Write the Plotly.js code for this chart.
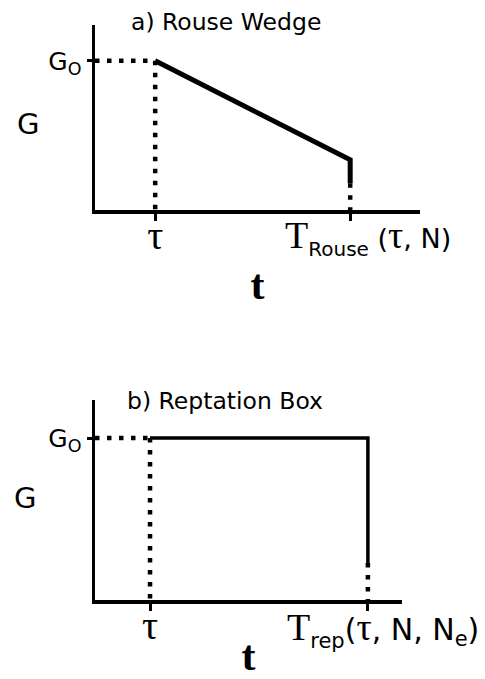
<!DOCTYPE html>
<html>
<head>
<meta charset="utf-8">
<script src="https://cdn.plot.ly/plotly-3.0.1.min.js"></script>
<style>html,body{margin:0;padding:0;background:#fff;}#chart{width:485px;height:679px;}</style>
</head>
<body>
<div id="chart"></div>
<script>
// ---- data (arbitrary schematic units: tau = 1, G0 = 1) ----
var tauA = 1.0;
var tRouse = 4.24;
var g0 = 1.0;
var gRouseEnd = 0.336;
var gRouseSolidEnd = 0.18;

var tauB = 1.0;
var tRep = 4.96;
var gRepSolidEnd = 0.228;

var panelTitles = ["a) Rouse Wedge", "b) Reptation Box"];
var tauLabel = "τ";
var g0Label = "G<sub>O</sub>";

var SANS = "DejaVu Sans";
var SERIF = "Liberation Serif";
var black = "#000";

function solid(x, y, xa, ya, w) {
  return {x: x, y: y, xaxis: xa, yaxis: ya, mode: "lines", type: "scatter",
          line: {color: black, width: w}, hoverinfo: "skip", showlegend: false, cliponaxis: false};
}
function dotted(x, y, xa, ya) {
  return {x: x, y: y, xaxis: xa, yaxis: ya, mode: "lines", type: "scatter",
          line: {color: black, width: 4.5, dash: "4.5px,7.5px"}, hoverinfo: "skip", showlegend: false, cliponaxis: false};
}

var traces = [
  // panel a
  dotted([0, tauA], [g0, g0], "x", "y"),
  dotted([tauA, tauA], [g0, 0], "x", "y"),
  solid([tauA, tRouse, tRouse], [g0, gRouseEnd, gRouseSolidEnd], "x", "y", 5),
  dotted([tRouse, tRouse], [gRouseSolidEnd, 0], "x", "y"),
  // panel b
  dotted([0, tauB], [g0, g0], "x2", "y2"),
  dotted([tauB, tauB], [g0, 0], "x2", "y2"),
  solid([tauB, tRep, tRep], [g0, g0, gRepSolidEnd], "x2", "y2", 3.5),
  dotted([tRep, tRep], [gRepSolidEnd, 0], "x2", "y2")
];

var W = 485, H = 679;
function px(x) { return x / W; }
function py(y) { return 1 - y / H; }

function xAxis(domain, anchor, range, tau, tEnd, titleStandoff) {
  return {
    domain: domain, anchor: anchor, range: range, fixedrange: true,
    showgrid: false, zeroline: false, showline: true, linecolor: black, linewidth: 3.5,
    ticks: "outside", ticklen: 7, tickwidth: 3, tickcolor: black,
    tickvals: [tau], ticktext: [tauLabel], ticklabelstandoff: -20,
    minor: {tickvals: [tEnd], ticks: "outside", ticklen: 7, tickwidth: 3, tickcolor: black, showgrid: false},
    tickfont: {family: SERIF, size: 40, color: black},
    title: {text: "t", font: {family: SERIF, size: 42, color: black, weight: "bold"}, standoff: titleStandoff}
  };
}
function yAxis(domain, anchor, range) {
  return {
    domain: domain, anchor: anchor, range: range, fixedrange: true,
    showgrid: false, zeroline: false, showline: true, linecolor: black, linewidth: 3.5,
    ticks: "outside", ticklen: 5, tickwidth: 3, tickcolor: black,
    tickvals: [g0], ticktext: [g0Label],
    tickfont: {family: SANS, size: 25, color: black}
  };
}

var layout = {
  width: W, height: H,
  margin: {l: 0, r: 0, t: 0, b: 0},
  paper_bgcolor: "#fff", plot_bgcolor: "#fff",
  showlegend: false,
  xaxis: xAxis([px(95), px(420)], "y", [0, 5.4], tauA, tRouse, 14),
  yaxis: yAxis([py(210), py(25)], "x", [0, 1.24]),
  xaxis2: xAxis([px(95), px(402)], "y2", [0, 5.58], tauB, tRep, 34),
  yaxis2: yAxis([py(600), py(400)], "x2", [0, 1.235]),
  annotations: [
    {text: panelTitles[0], xref: "paper", yref: "paper", x: px(226), y: py(22), xanchor: "center", yanchor: "middle",
     showarrow: false, font: {family: SANS, size: 23.5, color: black}},
    {text: panelTitles[1], xref: "paper", yref: "paper", x: px(225), y: py(401), xanchor: "center", yanchor: "middle",
     showarrow: false, font: {family: SANS, size: 23.5, color: black}},
    {text: "G", xref: "paper", yref: "paper", x: px(28), y: py(124), xanchor: "center", yanchor: "middle",
     showarrow: false, font: {family: SANS, size: 29, color: black}},
    {text: "G", xref: "paper", yref: "paper", x: px(25), y: py(498), xanchor: "center", yanchor: "middle",
     showarrow: false, font: {family: SANS, size: 29, color: black}},
    {text: "T<sub><span style=\"font-family:DejaVu Sans;font-size:20px\">Rouse</span></sub><span style=\"font-family:DejaVu Sans;font-size:27px\"> (</span>τ<span style=\"font-family:DejaVu Sans;font-size:27px\">, N)</span>",
     xref: "x", yref: "paper", x: tRouse, y: py(238), xanchor: "left", yanchor: "middle", xshift: -67,
     showarrow: false, font: {family: SERIF, size: 38, color: black}},
    {text: "T<sub><span style=\"font-family:DejaVu Sans;font-size:21px\">rep</span></sub><span style=\"font-family:DejaVu Sans;font-size:30px\">(</span>τ<span style=\"font-family:DejaVu Sans;font-size:30px\">, N, N<sub>e</sub>)</span>",
     xref: "x2", yref: "paper", x: tRep, y: py(629), xanchor: "left", yanchor: "middle", xshift: -83,
     showarrow: false, font: {family: SERIF, size: 38, color: black}}
  ]
};

Plotly.newPlot("chart", traces, layout, {staticPlot: true, displayModeBar: false});
</script>
</body>
</html>
